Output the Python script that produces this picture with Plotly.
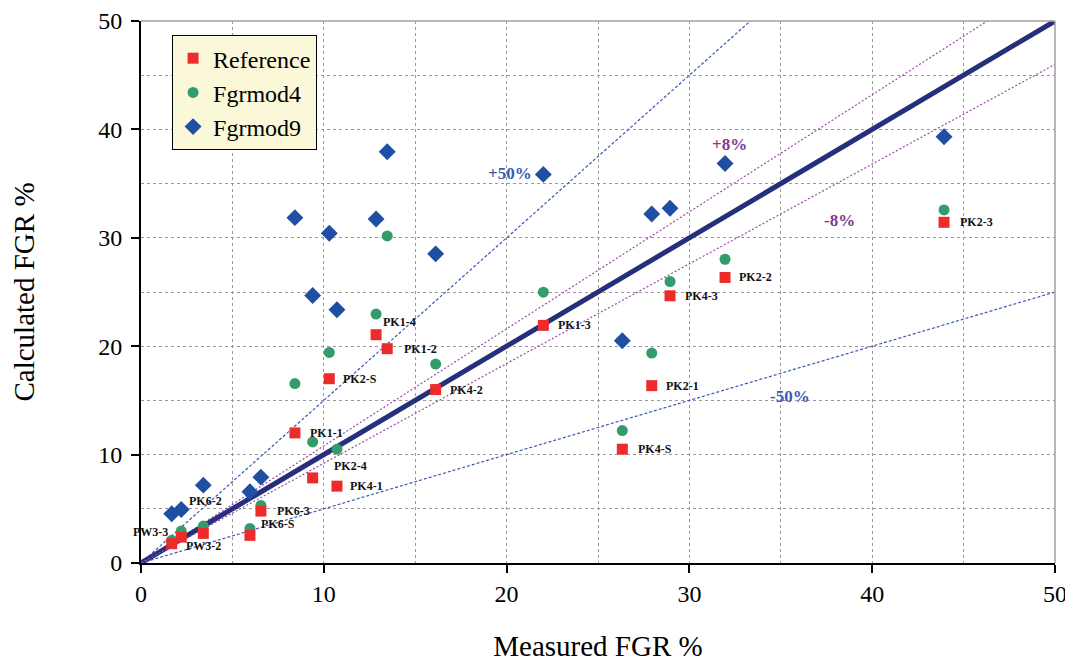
import plotly.graph_objects as go

# ---- data ----
labels = ["PW3-3", "PW3-2", "PK6-2", "PK6-S", "PK6-3", "PK1-1", "PK2-4", "PK4-1", "PK2-S",
          "PK1-4", "PK1-2", "PK4-2", "PK1-3", "PK4-3", "PK2-2", "PK2-1", "PK4-S", "PK2-3"]
measured = [1.68, 2.2, 3.41, 5.96, 6.56, 8.42, 9.39, 10.72, 10.3,
            12.86, 13.47, 16.12, 22.01, 28.94, 31.95, 27.94, 26.33, 43.93]
reference = [1.78, 2.39, 2.73, 2.55, 4.79, 12.0, 7.85, 7.09, 17.0,
             21.06, 19.77, 16.0, 21.92, 24.65, 26.34, 16.36, 10.5, 31.43]
fgrmod4 = [2.09, 2.95, 3.41, 3.19, 5.31, 16.55, 11.17, 10.5, 19.43,
           22.96, 30.17, 18.35, 24.98, 25.97, 28.02, 19.37, 12.22, 32.57]
fgrmod9 = [4.54, 4.94, 7.18, 6.57, 7.92, 31.86, 24.68, 23.36, 30.42,
           31.74, 37.94, 28.52, 35.85, 32.72, 36.86, 32.2, 20.5, 39.32]

# label offsets in pixels (style): (xshift, yshift, xanchor)
label_offsets = [(-2, 12, "right"), (3, -9, "left"), (-16, 32, "left"), (9, 11, "left"),
                 (14, 0, "left"), (13, 0, "left"), (19, 12, "left"), (11, 0, "left"),
                 (12, 0, "left"), (5, 13, "left"), (15, 0, "left"), (12, 0, "left"),
                 (13, 0, "left"), (13, 0, "left"), (12, 0, "left"), (12, 0, "left"),
                 (14, 0, "left"), (14, 0, "left")]

line_factors = [1.5, 1.08, 1.0, 0.92, 0.5]
line_texts = ["+50%", "+8%", "-8%", "-50%"]
line_text_pos = [(20.2, 35.9), (32.2, 38.6), (38.2, 31.6), (35.5, 15.4)]
line_text_colors = ["#3A5BB5", "#7E3A92", "#7E3A92", "#3A5BB5"]

x_ticks = [0, 10, 20, 30, 40, 50]

SERIF = "Liberation Serif"

fig = go.Figure()

line_styles = {
    1.5: dict(color="#3B58B8", width=1.2, dash="3px,2px"),
    1.08: dict(color="#9B4AA8", width=1.2, dash="2px,2px"),
    1.0: dict(color="#262F7C", width=5),
    0.92: dict(color="#9B4AA8", width=1.2, dash="2px,2px"),
    0.5: dict(color="#3B58B8", width=1.2, dash="3px,2px"),
}
for f in line_factors:
    fig.add_trace(go.Scatter(x=[0, 60], y=[0, 60 * f], mode="lines",
                             line=line_styles[f], showlegend=False, hoverinfo="skip"))

# drawn in this order so red squares sit on top; legend order set by legendrank
fig.add_trace(go.Scatter(x=measured, y=fgrmod9, mode="markers", name="Fgrmod9",
                         legendrank=3,
                         marker=dict(symbol="diamond", size=13, color="#1F4FA3")))
fig.add_trace(go.Scatter(x=measured, y=fgrmod4, mode="markers", name="Fgrmod4",
                         legendrank=2,
                         marker=dict(symbol="circle", size=11, color="#339B6C")))
fig.add_trace(go.Scatter(x=measured, y=reference, mode="markers", name="Reference",
                         legendrank=1,
                         marker=dict(symbol="square", size=11, color="#EE2B2B")))

for lab, xv, yv, (dx, dy, anc) in zip(labels, measured, reference, label_offsets):
    fig.add_annotation(x=xv, y=yv, text=lab, showarrow=False, xanchor=anc, yanchor="middle",
                       xshift=dx, yshift=dy,
                       font=dict(family=SERIF, size=12, color="#111111", weight="bold"))

for t, (tx, ty), c in zip(line_texts, line_text_pos, line_text_colors):
    fig.add_annotation(x=tx, y=ty, text=t, showarrow=False,
                       font=dict(family=SERIF, size=17, color=c, weight="bold"))

grid = dict(showgrid=True, gridcolor="#9A9A9A", griddash="dot", gridwidth=1)
common = dict(range=[0, 50], tickvals=x_ticks, ticks="outside", ticklen=8, tickwidth=2,
              tickcolor="black", showline=True, linecolor="black", linewidth=2,
              zeroline=False, automargin=False, ticklabeloverflow="allow",
              minor=dict(dtick=5, showgrid=True, gridcolor="#9A9A9A", griddash="dot"),
              tickfont=dict(family=SERIF, size=24, color="black"), **grid)
fig.update_xaxes(title=dict(text="Measured FGR %", font=dict(family=SERIF, size=29, color="black"),
                            standoff=30), **common)
fig.update_yaxes(title=dict(text="Calculated FGR %", font=dict(family=SERIF, size=29, color="black"),
                            standoff=62), ticklabelstandoff=4, **common)

# grey top/right frame
fig.add_shape(type="line", xref="paper", yref="paper", x0=0, x1=1, y0=1, y1=1,
              line=dict(color="#A0A0A0", width=1.5))
fig.add_shape(type="line", xref="paper", yref="paper", x0=1, x1=1, y0=0, y1=1,
              line=dict(color="#A0A0A0", width=1.5))

fig.update_layout(
    width=1065, height=660,
    margin=dict(l=133, r=18, t=13, b=105),
    plot_bgcolor="white", paper_bgcolor="white",
    showlegend=True,
    legend=dict(x=0.034, y=0.974, xanchor="left", yanchor="top",
                bgcolor="#FBF8DA", bordercolor="black", borderwidth=1,
                font=dict(family=SERIF, size=24, color="black"),
                tracegroupgap=0, itemwidth=30),
)

fig.write_html("out.html")
